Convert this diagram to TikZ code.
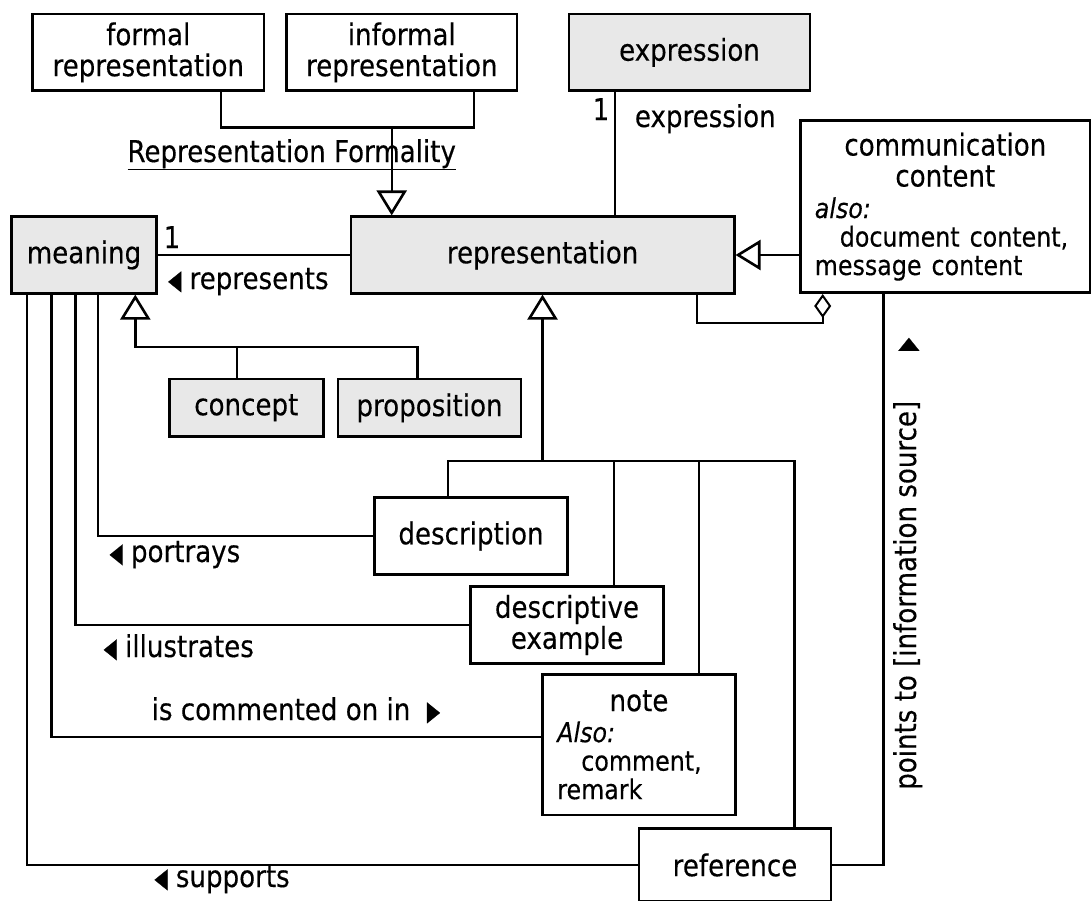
\documentclass[tikz,border=0pt]{standalone}
\usepackage{fontspec}
\setmainfont{DejaVu Sans}[FakeStretch=0.87, FakeBold=0.3]
\usepackage{tikz}
\usetikzlibrary{arrows.meta}
\newcommand{\lhead}{\smash{\raisebox{-3.8pt}{\scalebox{1}[1.4]{◂}}}}
\newcommand{\rhead}{\smash{\raisebox{-3.8pt}{\scalebox{1}[1.4]{▸}}}}
\newcommand{\alsofont}{\fontsize{27.3}{28.5}\selectfont}

\begin{document}
\begin{tikzpicture}[x=1pt, y=-1pt,
  every node/.style={font=\fontsize{30}{31}\selectfont},
  box/.style={draw, line width=2.6pt, inner sep=0pt, align=center, minimum height=76.6pt},
  greybox/.style={box, fill=boxgrey},
  link/.style={line width=2.4pt},
  gen/.style={link, -{Triangle[length=25pt, width=30pt, line width=2.6pt, fill=white]}},
  agg/.style={link, -{Diamond[length=24pt, width=17pt, line width=2pt, fill=white]}},
  lbl/.style={inner sep=0pt, anchor=base west}]
\definecolor{boxgrey}{RGB}{232,232,232}
\useasboundingbox (0,0) rectangle (1092,900);
% classes
\node[box, minimum width=231.4pt] (formal) at (148.3,52.4) {formal\\representation};
\node[box, minimum width=230.3pt] (informal) at (401.8,52.4) {informal\\representation};
\node[greybox, minimum width=241pt] (expression) at (689.5,52.4) {expression};
\node[greybox, minimum width=144.8pt] (meaning) at (84,255) {meaning};
\node[greybox, minimum width=383.3pt] (representation) at (542.6,255) {representation};
\node[box, minimum width=289.3pt, minimum height=172pt, text width=261pt, align=left] (content) at (945.3,206.7)
  {{\centering communication\\content\par}\vspace{3pt}{\alsofont\textit{also:}\\\hspace*{25pt}document content,\\message content\par}};
\node[greybox, minimum width=154pt, minimum height=57.7pt] (concept) at (246.3,407.8) {concept};
\node[greybox, minimum width=183pt, minimum height=57.7pt] (proposition) at (429.5,407.8) {proposition};
\node[box, minimum width=192.6pt] (description) at (471,536) {description};
\node[box, minimum width=192.6pt] (example) at (567,625) {descriptive\\example};
\node[box, minimum width=192.6pt, minimum height=140.3pt, text width=163.4pt, align=left] (note) at (639,744.8)
  {{\centering note\par}\vspace{2.5pt}{\alsofont\textit{Also:}\\\hspace*{24pt}comment,\\remark\par}};
\node[box, minimum width=192pt, minimum height=73.4pt] (reference) at (735,865) {reference};
% junctions
\coordinate (formalityL) at (220.7,127.3);
\coordinate (formalityR) at (474,127.3);
\coordinate (formality) at (391.7,127.3);
\coordinate (exprline) at (615,150);
\coordinate (partof) at (697,322.7);
\coordinate (partofR) at (822.7,322.7);
\coordinate (meaningsub) at (135.3,346.7);
\coordinate (conceptsub) at (236.7,346.7);
\coordinate (propsub) at (417.3,346.7);
\coordinate (reprsub) at (542.5,461);
\coordinate (descsub) at (447.7,461);
\coordinate (examplesub) at (614,461);
\coordinate (notesub) at (699,461);
\coordinate (refsub) at (794.5,461);
\coordinate (portrays) at (98.2,400);
\coordinate (illustrates) at (75.4,400);
\coordinate (commented) at (51.6,400);
\coordinate (supports) at (27,400);
\coordinate (points) at (883.3,600);
% connectors
\draw[link] (formal.south -| formalityL) -- (formalityL) -- (formalityR) -- (informal.south -| formalityR);
\draw[gen] (formality) -- (representation.north -| formality);
\draw[link] (expression.south -| exprline) -- (representation.north -| exprline);
\draw[link] (meaning.east) -- (representation.west);
\draw[gen] (content.west |- representation.east) -- (representation.east);
\draw[agg] (representation.south -| partof) -- (partof) -- (partofR) -- (content.south -| partofR);
\draw[gen] (proposition.north -| propsub) -- (propsub) -- (meaningsub) -- (meaning.south -| meaningsub);
\draw[link] (concept.north -| conceptsub) -- (conceptsub);
\draw[gen] (reprsub) -- (representation.south -| reprsub);
\draw[link] (description.north -| descsub) -- (descsub) -- (refsub) -- (reference.north -| refsub);
\draw[link] (examplesub) -- (example.north -| examplesub);
\draw[link] (notesub) -- (note.north -| notesub);
\draw[link] (meaning.south -| portrays) |- (description.west);
\draw[link] (meaning.south -| illustrates) |- (example.west);
\draw[link] (meaning.south -| commented) |- ([yshift=8pt]note.west);
\draw[link] (meaning.south -| supports) |- (reference.west);
\draw[link] (reference.east) -| (content.south -| points);
% labels
\node[lbl] at (127.3,162) {\underline{Representation Formality}};
\node[lbl, anchor=base] at (172,248) {1};
\node[lbl] at (168,289) {\lhead\ represents};
\node[lbl, anchor=base] at (601,120) {1};
\node[lbl] at (634.7,127) {expression};
\node[lbl] at (109.4,562) {\lhead\ portrays};
\node[lbl] at (103.5,657) {\lhead\ illustrates};
\node[lbl] at (151.5,720) {is commented on in\ \ \rhead};
\node[lbl] at (154.3,887) {\lhead\ supports};
\node[lbl, rotate=90] at (916,790) {points to [information source]\hspace{50pt}\rhead};
\end{tikzpicture}
\end{document}
